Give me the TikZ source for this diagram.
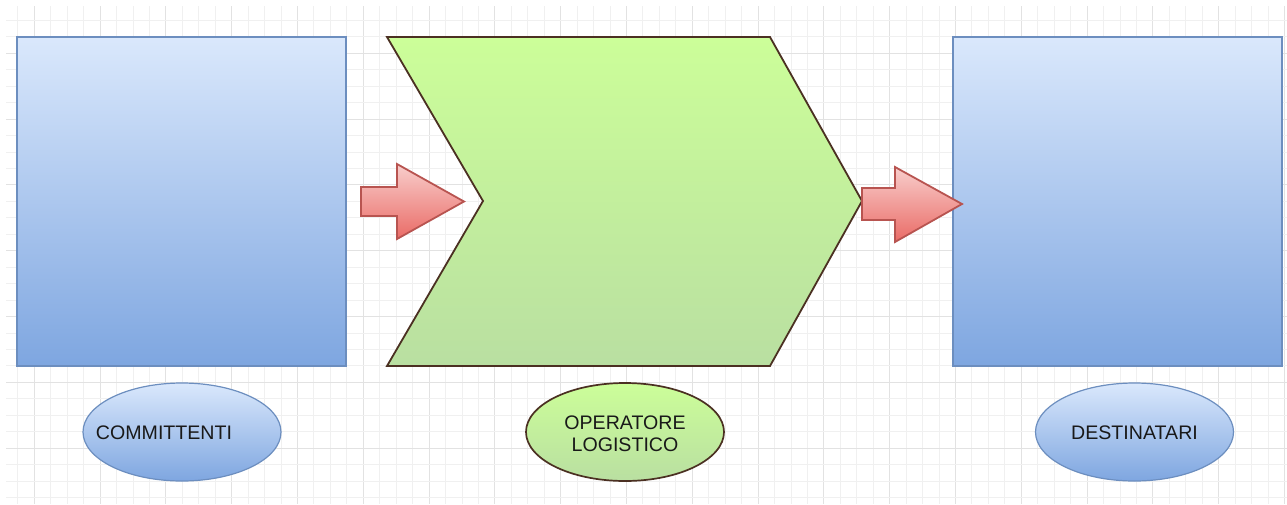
\documentclass[tikz,border=0pt]{standalone}
\usepackage{fontspec}
\setmainfont{Liberation Sans}
\usetikzlibrary{shapes.geometric}
\definecolor{gridminor}{HTML}{F0F0F0}
\definecolor{gridmajor}{HTML}{E2E2E2}
\definecolor{bluetop}{HTML}{DAE8FC}
\definecolor{bluebot}{HTML}{7EA6E0}
\definecolor{blueline}{HTML}{6C8EBF}
\definecolor{greentop}{HTML}{CCFE99}
\definecolor{greenbot}{HTML}{B9DFA1}
\definecolor{brownline}{HTML}{4B3022}
\definecolor{redtop}{HTML}{F8CECC}
\definecolor{redbot}{HTML}{EA6B66}
\definecolor{redline}{HTML}{B85450}
\tikzset{
  bluebox/.style={draw=blueline, line width=1.5pt, top color=bluetop, bottom color=bluebot,
    rectangle, inner sep=0pt, minimum width=329pt, minimum height=329pt},
  blueoval/.style={draw=blueline, line width=1.2pt, top color=bluetop, bottom color=bluebot,
    ellipse, inner sep=0pt, minimum width=198pt, minimum height=98pt},
  greenoval/.style={draw=brownline, line width=1.7pt, top color=greentop, bottom color=greenbot,
    ellipse, inner sep=0pt, minimum width=198pt, minimum height=98pt},
  chevronfill/.style={draw=brownline, line width=1.8pt, top color=greentop, bottom color=greenbot, line join=miter},
  blockarrow/.style={draw=redline, line width=1.8pt, top color=redtop, bottom color=redbot, line join=miter},
  caption/.style={font=\fontsize{19.6}{22.3}\selectfont, text=black!90, align=center, inner sep=0pt}
}
\begin{document}
\begin{tikzpicture}[x=1pt, y=-1pt]
  \useasboundingbox (0,0) rectangle (1287,504);
  \fill[white] (0,0) rectangle (1287,504);
  % background grid: minor lines every 16.45, major every fourth line
  \foreach \i in {-5,...,72} {
    \pgfmathsetmacro{\gx}{100+16.45*\i}
    \pgfmathtruncatemacro{\maj}{mod(\i+100,4)==0 ? 1 : 0}
    \ifdim\gx pt>6pt \ifdim\gx pt<1287pt
      \ifnum\maj=1 \draw[gridmajor, line width=0.9pt] (\gx,6) -- (\gx,504);
      \else \draw[gridminor, line width=0.8pt] (\gx,6) -- (\gx,504); \fi
    \fi\fi
  }
  \foreach \i in {-3,...,28} {
    \pgfmathsetmacro{\gy}{53.3+16.45*\i}
    \pgfmathtruncatemacro{\maj}{mod(\i+100,4)==0 ? 1 : 0}
    \ifdim\gy pt>6pt \ifdim\gy pt<504pt
      \ifnum\maj=1 \draw[gridmajor, line width=0.9pt] (6,\gy) -- (1287,\gy);
      \else \draw[gridminor, line width=0.8pt] (6,\gy) -- (1287,\gy); \fi
    \fi\fi
  }

  % clients and recipients
  \node[bluebox] (committenti) at (181.5,201.5) {};
  \node[bluebox] (destinatari) at (1117.5,201.5) {};

  % logistics operator chevron
  \coordinate (chTL) at (387,37);
  \coordinate (chTR) at (770,37);
  \coordinate (chTip) at (862,201);
  \coordinate (chBR) at (770,366);
  \coordinate (chBL) at (387,366);
  \coordinate (chNotch) at (483,201);
  \path[chevronfill] (chTL) -- (chTR) -- (chTip) -- (chBR) -- (chBL) -- (chNotch) -- cycle;

  % flow arrows
  \path[blockarrow] (361,187) -- (397,187) -- (397,164) -- (464,201.5) -- (397,239)
    -- (397,216) -- (361,216) -- cycle;
  \path[blockarrow] (862,188) -- (895,188) -- (895,167) -- (962,204) -- (895,242)
    -- (895,220) -- (862,220) -- cycle;

  % labels
  \node[blueoval] (ovalC) at (182,432) {};
  \node[caption] (labC) at (164,433) {COMMITTENTI};
  \node[greenoval] (ovalO) at (625,432) {};
  \node[caption] (labO) at (625,434) {OPERATORE\\LOGISTICO};
  \node[blueoval] (ovalD) at (1134.5,432) {};
  \node[caption] (labD) at (1134.5,433) {DESTINATARI};
\end{tikzpicture}
\end{document}
